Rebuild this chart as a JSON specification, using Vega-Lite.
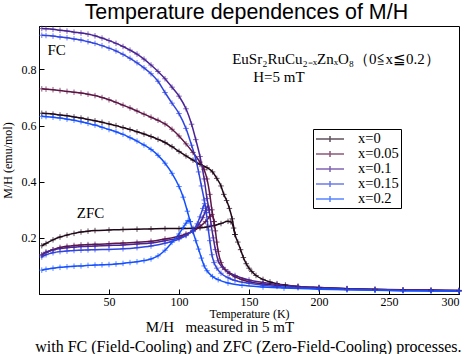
{
"$schema": "https://vega.github.io/schema/vega-lite/v6.json",
"background": "white",
"padding": {"left": 0, "top": 1, "right": 2, "bottom": 0},
"config": {
  "view": {"stroke": "black", "strokeWidth": 1},
  "concat": {"spacing": 0},
  "axis": {"grid": false, "domainColor": "black", "tickColor": "black", "labelColor": "black", "titleColor": "black", "tickSize": -5, "labelFont": "Liberation Serif", "titleFont": "Liberation Serif", "labelFontSize": 12, "titleFontSize": 12, "titleFontWeight": "normal"}
},
"title": {"text": "Temperature dependences of M/H", "font": "Liberation Sans", "fontSize": 21.4, "fontWeight": "normal", "color": "black", "anchor": "middle", "offset": 0, "dx": 14},
"datasets": {
"notes": [
  {"t": "FC", "T": 6, "M": 0.868},
  {"t": "ZFC", "T": 27, "M": 0.288},
  {"t": "EuSr₂RuCu₂₋ₓZnₓO₈（0≦x≦0.2）", "T": 138, "M": 0.838},
  {"t": "H=5 mT", "T": 153, "M": 0.773}
],
"curves": [
{"s":"x=0","b":"FC","T":2,"M":0.644},{"s":"x=0","b":"FC","T":5,"M":0.643},{"s":"x=0","b":"FC","T":10,"M":0.641},{"s":"x=0","b":"FC","T":15,"M":0.638},{"s":"x=0","b":"FC","T":20,"M":0.635},{"s":"x=0","b":"FC","T":25,"M":0.631},{"s":"x=0","b":"FC","T":30,"M":0.627},{"s":"x=0","b":"FC","T":35,"M":0.622},{"s":"x=0","b":"FC","T":40,"M":0.617},{"s":"x=0","b":"FC","T":45,"M":0.612},{"s":"x=0","b":"FC","T":50,"M":0.606},{"s":"x=0","b":"FC","T":55,"M":0.6},{"s":"x=0","b":"FC","T":60,"M":0.593},{"s":"x=0","b":"FC","T":65,"M":0.586},{"s":"x=0","b":"FC","T":70,"M":0.578},{"s":"x=0","b":"FC","T":75,"M":0.57},{"s":"x=0","b":"FC","T":80,"M":0.561},{"s":"x=0","b":"FC","T":85,"M":0.551},{"s":"x=0","b":"FC","T":90,"M":0.54},{"s":"x=0","b":"FC","T":95,"M":0.525},{"s":"x=0","b":"FC","T":100,"M":0.508},{"s":"x=0","b":"FC","T":105,"M":0.492},{"s":"x=0","b":"FC","T":110,"M":0.477},{"s":"x=0","b":"FC","T":115,"M":0.462},{"s":"x=0","b":"FC","T":120,"M":0.45},{"s":"x=0","b":"FC","T":124,"M":0.435},{"s":"x=0","b":"FC","T":127,"M":0.412},{"s":"x=0","b":"FC","T":130,"M":0.385},{"s":"x=0","b":"FC","T":132,"M":0.355},{"s":"x=0","b":"FC","T":134,"M":0.333},{"s":"x=0","b":"FC","T":136,"M":0.305},{"s":"x=0","b":"FC","T":138,"M":0.268},{"s":"x=0","b":"FC","T":140,"M":0.212},{"s":"x=0","b":"FC","T":142,"M":0.185},{"s":"x=0","b":"FC","T":144,"M":0.158},{"s":"x=0","b":"FC","T":146,"M":0.13},{"s":"x=0","b":"FC","T":148,"M":0.108},{"s":"x=0","b":"FC","T":150,"M":0.092},{"s":"x=0","b":"FC","T":152,"M":0.08},{"s":"x=0","b":"FC","T":155,"M":0.066},{"s":"x=0","b":"FC","T":160,"M":0.052},{"s":"x=0","b":"FC","T":165,"M":0.043},{"s":"x=0","b":"FC","T":170,"M":0.037},{"s":"x=0","b":"FC","T":176,"M":0.032},{"s":"x=0","b":"FC","T":185,"M":0.027},{"s":"x=0","b":"FC","T":200,"M":0.023},{"s":"x=0","b":"FC","T":220,"M":0.019},{"s":"x=0","b":"FC","T":240,"M":0.016},{"s":"x=0","b":"FC","T":260,"M":0.014},{"s":"x=0","b":"FC","T":280,"M":0.013},{"s":"x=0","b":"FC","T":300,"M":0.012},
{"s":"x=0","b":"ZFC","T":2,"M":0.172},{"s":"x=0","b":"ZFC","T":5,"M":0.18},{"s":"x=0","b":"ZFC","T":10,"M":0.193},{"s":"x=0","b":"ZFC","T":15,"M":0.203},{"s":"x=0","b":"ZFC","T":20,"M":0.21},{"s":"x=0","b":"ZFC","T":25,"M":0.216},{"s":"x=0","b":"ZFC","T":30,"M":0.221},{"s":"x=0","b":"ZFC","T":35,"M":0.224},{"s":"x=0","b":"ZFC","T":40,"M":0.226},{"s":"x=0","b":"ZFC","T":50,"M":0.228},{"s":"x=0","b":"ZFC","T":60,"M":0.23},{"s":"x=0","b":"ZFC","T":70,"M":0.231},{"s":"x=0","b":"ZFC","T":80,"M":0.232},{"s":"x=0","b":"ZFC","T":90,"M":0.233},{"s":"x=0","b":"ZFC","T":100,"M":0.233},{"s":"x=0","b":"ZFC","T":110,"M":0.234},{"s":"x=0","b":"ZFC","T":115,"M":0.236},{"s":"x=0","b":"ZFC","T":120,"M":0.239},{"s":"x=0","b":"ZFC","T":125,"M":0.244},{"s":"x=0","b":"ZFC","T":130,"M":0.251},{"s":"x=0","b":"ZFC","T":135,"M":0.259},{"s":"x=0","b":"ZFC","T":137,"M":0.257},{"s":"x=0","b":"ZFC","T":139,"M":0.235},{"s":"x=0","b":"ZFC","T":140,"M":0.212},
{"s":"x=0.05","b":"FC","T":2,"M":0.731},{"s":"x=0.05","b":"FC","T":5,"M":0.73},{"s":"x=0.05","b":"FC","T":10,"M":0.728},{"s":"x=0.05","b":"FC","T":15,"M":0.725},{"s":"x=0.05","b":"FC","T":20,"M":0.722},{"s":"x=0.05","b":"FC","T":25,"M":0.719},{"s":"x=0.05","b":"FC","T":30,"M":0.716},{"s":"x=0.05","b":"FC","T":35,"M":0.712},{"s":"x=0.05","b":"FC","T":40,"M":0.707},{"s":"x=0.05","b":"FC","T":45,"M":0.7},{"s":"x=0.05","b":"FC","T":50,"M":0.692},{"s":"x=0.05","b":"FC","T":55,"M":0.683},{"s":"x=0.05","b":"FC","T":60,"M":0.673},{"s":"x=0.05","b":"FC","T":65,"M":0.663},{"s":"x=0.05","b":"FC","T":70,"M":0.652},{"s":"x=0.05","b":"FC","T":75,"M":0.641},{"s":"x=0.05","b":"FC","T":80,"M":0.63},{"s":"x=0.05","b":"FC","T":85,"M":0.619},{"s":"x=0.05","b":"FC","T":90,"M":0.606},{"s":"x=0.05","b":"FC","T":95,"M":0.587},{"s":"x=0.05","b":"FC","T":100,"M":0.563},{"s":"x=0.05","b":"FC","T":105,"M":0.535},{"s":"x=0.05","b":"FC","T":110,"M":0.504},{"s":"x=0.05","b":"FC","T":115,"M":0.47},{"s":"x=0.05","b":"FC","T":118,"M":0.443},{"s":"x=0.05","b":"FC","T":120,"M":0.41},{"s":"x=0.05","b":"FC","T":122,"M":0.355},{"s":"x=0.05","b":"FC","T":123.5,"M":0.3},{"s":"x=0.05","b":"FC","T":125,"M":0.258},{"s":"x=0.05","b":"FC","T":126,"M":0.225},{"s":"x=0.05","b":"FC","T":127,"M":0.185},{"s":"x=0.05","b":"FC","T":128,"M":0.152},{"s":"x=0.05","b":"FC","T":130,"M":0.112},{"s":"x=0.05","b":"FC","T":133,"M":0.087},{"s":"x=0.05","b":"FC","T":136,"M":0.073},{"s":"x=0.05","b":"FC","T":140,"M":0.061},{"s":"x=0.05","b":"FC","T":145,"M":0.051},{"s":"x=0.05","b":"FC","T":150,"M":0.044},{"s":"x=0.05","b":"FC","T":160,"M":0.036},{"s":"x=0.05","b":"FC","T":170,"M":0.031},{"s":"x=0.05","b":"FC","T":185,"M":0.026},{"s":"x=0.05","b":"FC","T":200,"M":0.022},{"s":"x=0.05","b":"FC","T":220,"M":0.019},{"s":"x=0.05","b":"FC","T":240,"M":0.017},{"s":"x=0.05","b":"FC","T":260,"M":0.015},{"s":"x=0.05","b":"FC","T":280,"M":0.014},{"s":"x=0.05","b":"FC","T":300,"M":0.013},
{"s":"x=0.05","b":"ZFC","T":2,"M":0.138},{"s":"x=0.05","b":"ZFC","T":5,"M":0.148},{"s":"x=0.05","b":"ZFC","T":10,"M":0.158},{"s":"x=0.05","b":"ZFC","T":15,"M":0.166},{"s":"x=0.05","b":"ZFC","T":20,"M":0.17},{"s":"x=0.05","b":"ZFC","T":25,"M":0.173},{"s":"x=0.05","b":"ZFC","T":30,"M":0.175},{"s":"x=0.05","b":"ZFC","T":35,"M":0.176},{"s":"x=0.05","b":"ZFC","T":40,"M":0.177},{"s":"x=0.05","b":"ZFC","T":50,"M":0.179},{"s":"x=0.05","b":"ZFC","T":60,"M":0.182},{"s":"x=0.05","b":"ZFC","T":70,"M":0.184},{"s":"x=0.05","b":"ZFC","T":80,"M":0.188},{"s":"x=0.05","b":"ZFC","T":90,"M":0.196},{"s":"x=0.05","b":"ZFC","T":100,"M":0.206},{"s":"x=0.05","b":"ZFC","T":105,"M":0.214},{"s":"x=0.05","b":"ZFC","T":110,"M":0.224},{"s":"x=0.05","b":"ZFC","T":115,"M":0.24},{"s":"x=0.05","b":"ZFC","T":119,"M":0.258},{"s":"x=0.05","b":"ZFC","T":122,"M":0.276},{"s":"x=0.05","b":"ZFC","T":123.5,"M":0.283},{"s":"x=0.05","b":"ZFC","T":125,"M":0.258},
{"s":"x=0.1","b":"FC","T":2,"M":0.946},{"s":"x=0.1","b":"FC","T":5,"M":0.945},{"s":"x=0.1","b":"FC","T":10,"M":0.943},{"s":"x=0.1","b":"FC","T":15,"M":0.94},{"s":"x=0.1","b":"FC","T":20,"M":0.937},{"s":"x=0.1","b":"FC","T":25,"M":0.933},{"s":"x=0.1","b":"FC","T":30,"M":0.93},{"s":"x=0.1","b":"FC","T":35,"M":0.926},{"s":"x=0.1","b":"FC","T":40,"M":0.92},{"s":"x=0.1","b":"FC","T":45,"M":0.912},{"s":"x=0.1","b":"FC","T":50,"M":0.903},{"s":"x=0.1","b":"FC","T":55,"M":0.893},{"s":"x=0.1","b":"FC","T":60,"M":0.882},{"s":"x=0.1","b":"FC","T":65,"M":0.869},{"s":"x=0.1","b":"FC","T":70,"M":0.855},{"s":"x=0.1","b":"FC","T":75,"M":0.837},{"s":"x=0.1","b":"FC","T":80,"M":0.816},{"s":"x=0.1","b":"FC","T":85,"M":0.793},{"s":"x=0.1","b":"FC","T":90,"M":0.767},{"s":"x=0.1","b":"FC","T":95,"M":0.737},{"s":"x=0.1","b":"FC","T":100,"M":0.705},{"s":"x=0.1","b":"FC","T":105,"M":0.66},{"s":"x=0.1","b":"FC","T":109,"M":0.605},{"s":"x=0.1","b":"FC","T":112,"M":0.55},{"s":"x=0.1","b":"FC","T":115,"M":0.49},{"s":"x=0.1","b":"FC","T":118,"M":0.41},{"s":"x=0.1","b":"FC","T":120,"M":0.34},{"s":"x=0.1","b":"FC","T":121.5,"M":0.3},{"s":"x=0.1","b":"FC","T":123,"M":0.245},{"s":"x=0.1","b":"FC","T":124.5,"M":0.2},{"s":"x=0.1","b":"FC","T":126,"M":0.158},{"s":"x=0.1","b":"FC","T":128,"M":0.118},{"s":"x=0.1","b":"FC","T":131,"M":0.095},{"s":"x=0.1","b":"FC","T":135,"M":0.079},{"s":"x=0.1","b":"FC","T":140,"M":0.066},{"s":"x=0.1","b":"FC","T":150,"M":0.05},{"s":"x=0.1","b":"FC","T":160,"M":0.041},{"s":"x=0.1","b":"FC","T":170,"M":0.034},{"s":"x=0.1","b":"FC","T":185,"M":0.027},{"s":"x=0.1","b":"FC","T":200,"M":0.023},{"s":"x=0.1","b":"FC","T":220,"M":0.019},{"s":"x=0.1","b":"FC","T":240,"M":0.016},{"s":"x=0.1","b":"FC","T":260,"M":0.014},{"s":"x=0.1","b":"FC","T":280,"M":0.013},{"s":"x=0.1","b":"FC","T":300,"M":0.012},
{"s":"x=0.1","b":"ZFC","T":2,"M":0.14},{"s":"x=0.1","b":"ZFC","T":5,"M":0.149},{"s":"x=0.1","b":"ZFC","T":10,"M":0.157},{"s":"x=0.1","b":"ZFC","T":15,"M":0.162},{"s":"x=0.1","b":"ZFC","T":20,"M":0.165},{"s":"x=0.1","b":"ZFC","T":25,"M":0.167},{"s":"x=0.1","b":"ZFC","T":30,"M":0.169},{"s":"x=0.1","b":"ZFC","T":35,"M":0.17},{"s":"x=0.1","b":"ZFC","T":40,"M":0.171},{"s":"x=0.1","b":"ZFC","T":50,"M":0.173},{"s":"x=0.1","b":"ZFC","T":60,"M":0.175},{"s":"x=0.1","b":"ZFC","T":70,"M":0.178},{"s":"x=0.1","b":"ZFC","T":80,"M":0.182},{"s":"x=0.1","b":"ZFC","T":90,"M":0.19},{"s":"x=0.1","b":"ZFC","T":100,"M":0.2},{"s":"x=0.1","b":"ZFC","T":105,"M":0.21},{"s":"x=0.1","b":"ZFC","T":110,"M":0.226},{"s":"x=0.1","b":"ZFC","T":114,"M":0.247},{"s":"x=0.1","b":"ZFC","T":117,"M":0.272},{"s":"x=0.1","b":"ZFC","T":119,"M":0.297},{"s":"x=0.1","b":"ZFC","T":120.5,"M":0.313},{"s":"x=0.1","b":"ZFC","T":121.5,"M":0.3},
{"s":"x=0.15","b":"FC","T":2,"M":0.922},{"s":"x=0.15","b":"FC","T":5,"M":0.921},{"s":"x=0.15","b":"FC","T":10,"M":0.919},{"s":"x=0.15","b":"FC","T":15,"M":0.916},{"s":"x=0.15","b":"FC","T":20,"M":0.913},{"s":"x=0.15","b":"FC","T":25,"M":0.909},{"s":"x=0.15","b":"FC","T":30,"M":0.905},{"s":"x=0.15","b":"FC","T":35,"M":0.899},{"s":"x=0.15","b":"FC","T":40,"M":0.893},{"s":"x=0.15","b":"FC","T":45,"M":0.885},{"s":"x=0.15","b":"FC","T":50,"M":0.876},{"s":"x=0.15","b":"FC","T":55,"M":0.866},{"s":"x=0.15","b":"FC","T":60,"M":0.854},{"s":"x=0.15","b":"FC","T":65,"M":0.84},{"s":"x=0.15","b":"FC","T":70,"M":0.824},{"s":"x=0.15","b":"FC","T":75,"M":0.806},{"s":"x=0.15","b":"FC","T":80,"M":0.785},{"s":"x=0.15","b":"FC","T":85,"M":0.758},{"s":"x=0.15","b":"FC","T":90,"M":0.718},{"s":"x=0.15","b":"FC","T":95,"M":0.68},{"s":"x=0.15","b":"FC","T":100,"M":0.643},{"s":"x=0.15","b":"FC","T":105,"M":0.59},{"s":"x=0.15","b":"FC","T":109,"M":0.53},{"s":"x=0.15","b":"FC","T":112,"M":0.48},{"s":"x=0.15","b":"FC","T":114,"M":0.435},{"s":"x=0.15","b":"FC","T":116,"M":0.385},{"s":"x=0.15","b":"FC","T":118,"M":0.335},{"s":"x=0.15","b":"FC","T":119.5,"M":0.29},{"s":"x=0.15","b":"FC","T":121,"M":0.228},{"s":"x=0.15","b":"FC","T":122,"M":0.19},{"s":"x=0.15","b":"FC","T":123.5,"M":0.14},{"s":"x=0.15","b":"FC","T":125,"M":0.112},{"s":"x=0.15","b":"FC","T":127,"M":0.092},{"s":"x=0.15","b":"FC","T":130,"M":0.074},{"s":"x=0.15","b":"FC","T":135,"M":0.058},{"s":"x=0.15","b":"FC","T":140,"M":0.048},{"s":"x=0.15","b":"FC","T":150,"M":0.038},{"s":"x=0.15","b":"FC","T":160,"M":0.031},{"s":"x=0.15","b":"FC","T":170,"M":0.027},{"s":"x=0.15","b":"FC","T":185,"M":0.022},{"s":"x=0.15","b":"FC","T":200,"M":0.019},{"s":"x=0.15","b":"FC","T":220,"M":0.016},{"s":"x=0.15","b":"FC","T":240,"M":0.014},{"s":"x=0.15","b":"FC","T":260,"M":0.012},{"s":"x=0.15","b":"FC","T":280,"M":0.011},{"s":"x=0.15","b":"FC","T":300,"M":0.01},
{"s":"x=0.15","b":"ZFC","T":2,"M":0.132},{"s":"x=0.15","b":"ZFC","T":5,"M":0.14},{"s":"x=0.15","b":"ZFC","T":10,"M":0.147},{"s":"x=0.15","b":"ZFC","T":15,"M":0.151},{"s":"x=0.15","b":"ZFC","T":20,"M":0.153},{"s":"x=0.15","b":"ZFC","T":25,"M":0.155},{"s":"x=0.15","b":"ZFC","T":30,"M":0.156},{"s":"x=0.15","b":"ZFC","T":35,"M":0.157},{"s":"x=0.15","b":"ZFC","T":40,"M":0.158},{"s":"x=0.15","b":"ZFC","T":50,"M":0.159},{"s":"x=0.15","b":"ZFC","T":60,"M":0.161},{"s":"x=0.15","b":"ZFC","T":70,"M":0.165},{"s":"x=0.15","b":"ZFC","T":80,"M":0.171},{"s":"x=0.15","b":"ZFC","T":90,"M":0.181},{"s":"x=0.15","b":"ZFC","T":100,"M":0.196},{"s":"x=0.15","b":"ZFC","T":105,"M":0.208},{"s":"x=0.15","b":"ZFC","T":110,"M":0.228},{"s":"x=0.15","b":"ZFC","T":113,"M":0.25},{"s":"x=0.15","b":"ZFC","T":115,"M":0.275},{"s":"x=0.15","b":"ZFC","T":117,"M":0.305},{"s":"x=0.15","b":"ZFC","T":118.3,"M":0.322},{"s":"x=0.15","b":"ZFC","T":119.5,"M":0.29},
{"s":"x=0.2","b":"FC","T":2,"M":0.633},{"s":"x=0.2","b":"FC","T":5,"M":0.632},{"s":"x=0.2","b":"FC","T":10,"M":0.63},{"s":"x=0.2","b":"FC","T":15,"M":0.627},{"s":"x=0.2","b":"FC","T":20,"M":0.623},{"s":"x=0.2","b":"FC","T":25,"M":0.619},{"s":"x=0.2","b":"FC","T":30,"M":0.614},{"s":"x=0.2","b":"FC","T":35,"M":0.608},{"s":"x=0.2","b":"FC","T":40,"M":0.602},{"s":"x=0.2","b":"FC","T":45,"M":0.594},{"s":"x=0.2","b":"FC","T":50,"M":0.586},{"s":"x=0.2","b":"FC","T":55,"M":0.578},{"s":"x=0.2","b":"FC","T":60,"M":0.569},{"s":"x=0.2","b":"FC","T":65,"M":0.557},{"s":"x=0.2","b":"FC","T":70,"M":0.545},{"s":"x=0.2","b":"FC","T":75,"M":0.531},{"s":"x=0.2","b":"FC","T":80,"M":0.515},{"s":"x=0.2","b":"FC","T":85,"M":0.494},{"s":"x=0.2","b":"FC","T":90,"M":0.466},{"s":"x=0.2","b":"FC","T":95,"M":0.43},{"s":"x=0.2","b":"FC","T":100,"M":0.383},{"s":"x=0.2","b":"FC","T":103,"M":0.345},{"s":"x=0.2","b":"FC","T":106,"M":0.295},{"s":"x=0.2","b":"FC","T":108,"M":0.258},{"s":"x=0.2","b":"FC","T":110,"M":0.222},{"s":"x=0.2","b":"FC","T":112,"M":0.19},{"s":"x=0.2","b":"FC","T":114,"M":0.16},{"s":"x=0.2","b":"FC","T":116,"M":0.128},{"s":"x=0.2","b":"FC","T":118,"M":0.1},{"s":"x=0.2","b":"FC","T":120,"M":0.083},{"s":"x=0.2","b":"FC","T":124,"M":0.062},{"s":"x=0.2","b":"FC","T":128,"M":0.051},{"s":"x=0.2","b":"FC","T":135,"M":0.039},{"s":"x=0.2","b":"FC","T":145,"M":0.031},{"s":"x=0.2","b":"FC","T":160,"M":0.025},{"s":"x=0.2","b":"FC","T":175,"M":0.021},{"s":"x=0.2","b":"FC","T":200,"M":0.017},{"s":"x=0.2","b":"FC","T":220,"M":0.015},{"s":"x=0.2","b":"FC","T":240,"M":0.013},{"s":"x=0.2","b":"FC","T":260,"M":0.012},{"s":"x=0.2","b":"FC","T":280,"M":0.011},{"s":"x=0.2","b":"FC","T":300,"M":0.01},
{"s":"x=0.2","b":"ZFC","T":2,"M":0.085},{"s":"x=0.2","b":"ZFC","T":5,"M":0.088},{"s":"x=0.2","b":"ZFC","T":10,"M":0.092},{"s":"x=0.2","b":"ZFC","T":15,"M":0.095},{"s":"x=0.2","b":"ZFC","T":20,"M":0.097},{"s":"x=0.2","b":"ZFC","T":25,"M":0.099},{"s":"x=0.2","b":"ZFC","T":30,"M":0.1},{"s":"x=0.2","b":"ZFC","T":35,"M":0.102},{"s":"x=0.2","b":"ZFC","T":40,"M":0.103},{"s":"x=0.2","b":"ZFC","T":45,"M":0.104},{"s":"x=0.2","b":"ZFC","T":50,"M":0.105},{"s":"x=0.2","b":"ZFC","T":55,"M":0.107},{"s":"x=0.2","b":"ZFC","T":60,"M":0.109},{"s":"x=0.2","b":"ZFC","T":65,"M":0.112},{"s":"x=0.2","b":"ZFC","T":70,"M":0.115},{"s":"x=0.2","b":"ZFC","T":75,"M":0.119},{"s":"x=0.2","b":"ZFC","T":80,"M":0.125},{"s":"x=0.2","b":"ZFC","T":85,"M":0.136},{"s":"x=0.2","b":"ZFC","T":90,"M":0.156},{"s":"x=0.2","b":"ZFC","T":95,"M":0.184},{"s":"x=0.2","b":"ZFC","T":100,"M":0.214},{"s":"x=0.2","b":"ZFC","T":103,"M":0.237},{"s":"x=0.2","b":"ZFC","T":105,"M":0.252},{"s":"x=0.2","b":"ZFC","T":106.5,"M":0.262},{"s":"x=0.2","b":"ZFC","T":108,"M":0.258}
]
},
"vconcat": [
{
 "title": {"text": "with FC (Field-Cooling) and ZFC (Zero-Field-Cooling) processes.", "orient": "bottom", "anchor": "middle", "font": "Liberation Serif", "fontSize": 16, "fontWeight": "normal", "color": "black", "offset": 3, "dx": 16},
 "vconcat": [
 {
  "title": {"text": "M/H\u00a0\u00a0\u00a0measured in 5 mT", "orient": "bottom", "anchor": "middle", "font": "Liberation Serif", "fontSize": 15, "fontWeight": "normal", "color": "black", "offset": 1, "dx": -29},
  "width": 420,
  "height": 268,
  "encoding": {
    "x": {"field": "T", "type": "quantitative", "scale": {"domain": [0, 300], "nice": false, "zero": false}, "axis": {"values": [50, 100, 150, 200, 250, 300], "title": "Temperature (K)", "titlePadding": 1, "labelFont": "Liberation Serif", "labelFontSize": 12, "titleFont": "Liberation Serif", "titleFontSize": 12, "titleFontWeight": "normal", "labelPadding": 7}},
    "y": {"field": "M", "type": "quantitative", "scale": {"domain": [0, 0.955], "nice": false}, "axis": {"values": [0.2, 0.4, 0.6, 0.8], "format": ".1f", "title": "\u00a0\u00a0\u00a0\u00a0\u00a0\u00a0\u00a0M/H (emu/mol)", "labelFont": "Liberation Serif", "labelFontSize": 12, "titleFont": "Liberation Serif", "titleFontSize": 12, "titleFontWeight": "normal", "labelPadding": 8, "titlePadding": 7}}
  },
  "layer": [
   {
    "data": {"name": "curves"},
    "mark": {"type": "line", "interpolate": "monotone", "strokeWidth": 1.5},
    "encoding": {
      "color": {"field": "s", "type": "nominal", "scale": {"domain": ["x=0", "x=0.05", "x=0.1", "x=0.15", "x=0.2"], "range": ["#200818", "#5c1545", "#4b2494", "#3045e0", "#1550ff"]},
        "legend": {"orient": "none", "legendX": 274, "legendY": 103, "title": null, "symbolType": "M-2,0H2M0,-0.44V0.44", "symbolSize": 196, "symbolOffset": 7, "symbolStrokeWidth": 1.5, "symbolFillColor": "transparent", "labelFont": "Liberation Serif", "labelFontSize": 14.5, "labelColor": "black", "labelOffset": 20, "labelExpr": "datum.label + '\u00a0\u00a0\u00a0'", "strokeColor": "black", "fillColor": "white", "padding": 2, "rowPadding": -0.75}},
      "detail": {"field": "b", "type": "nominal"}
    }
   },
   {
    "data": {"name": "curves"},
    "mark": {"type": "point", "shape": "M-1,0H1M0,-1V1", "size": 30, "filled": false, "strokeWidth": 1, "opacity": 0.7},
    "encoding": {
      "color": {"field": "s", "type": "nominal"}
    }
   },
   {
    "data": {"name": "notes"},
    "mark": {"type": "text", "align": "left", "baseline": "middle", "font": "Liberation Serif", "fontSize": 15, "color": "black"},
    "encoding": {
      "text": {"field": "t"}
    }
   }
  ]
 }
 ]
}
]
}
